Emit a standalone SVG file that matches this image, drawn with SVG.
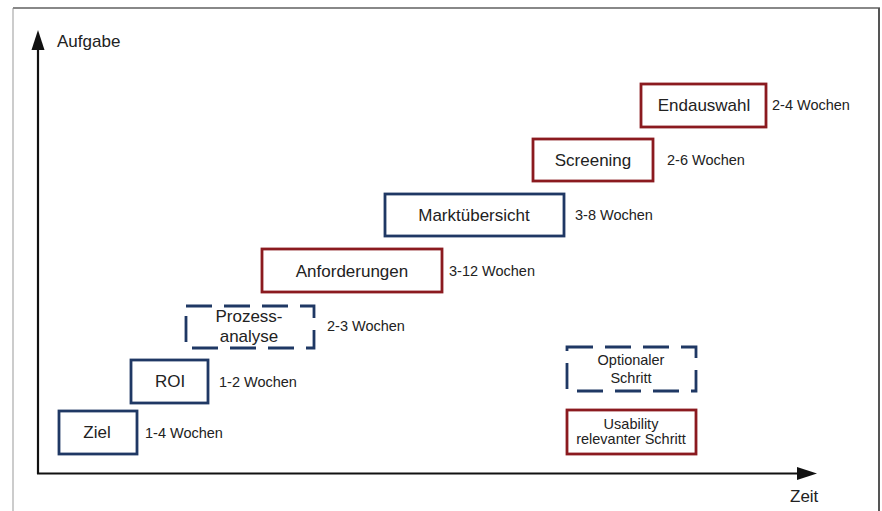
<svg xmlns="http://www.w3.org/2000/svg" width="882" height="511" viewBox="0 0 882 511">
<style>
text{font-family:"Liberation Sans",Arial,sans-serif;fill:#222}
.lbl{font-size:17px;text-anchor:middle}
.dur{font-size:14.5px}
.ax{font-size:17px}
.leg{font-size:14.5px;text-anchor:middle}
.blue{fill:#fff;stroke:#1f3864;stroke-width:2.8}
.red{fill:#fff;stroke:#8b1a1f;stroke-width:2.8}
.dash{fill:none;stroke:#1f3864;stroke-width:2.8;stroke-dasharray:26 12}
.axis{stroke:#111;stroke-width:2.2;fill:none}
</style>
<defs>
<marker id="arr" markerWidth="10" markerHeight="10" refX="9" refY="5" orient="auto" markerUnits="userSpaceOnUse" viewBox="0 0 10 10">
<path d="M0,0 L10,5 L0,10 Z" fill="#111"/>
</marker>
</defs>
<rect width="882" height="511" fill="#fff"/>
<g id="frame">
<line x1="13" y1="8" x2="13" y2="511" stroke="#aaa" stroke-width="1.2"/>
<line x1="13" y1="8" x2="880" y2="8" stroke="#888" stroke-width="2"/>
<line x1="879" y1="8" x2="879" y2="511" stroke="#555" stroke-width="2"/>
</g>
<g id="connectors">
<path class="axis" d="M38,474 L38,50"/>
<polygon points="38,30 31.5,50 44.5,50" fill="#111"/>
<path class="axis" d="M37,473.5 L798,473.5"/>
<polygon points="817,473.5 797,467 797,480" fill="#111"/>
</g>
<g id="axis-labels">
<text class="ax" x="57" y="47">Aufgabe</text>
<text class="ax" x="790" y="502">Zeit</text>
</g>
<g id="ziel">
<rect class="blue" x="59" y="411" width="78" height="43"/>
<text class="lbl" x="97" y="438">Ziel</text>
<text class="dur" x="145" y="438">1-4 Wochen</text>
</g>
<g id="roi">
<rect class="blue" x="131" y="360" width="77" height="43"/>
<text class="lbl" x="170" y="387">ROI</text>
<text class="dur" x="219" y="387">1-2 Wochen</text>
</g>
<g id="prozessanalyse">
<rect class="dash" x="186" y="306" width="128" height="42"/>
<text class="lbl" x="249" y="322">Prozess-</text>
<text class="lbl" x="249" y="342">analyse</text>
<text class="dur" x="327" y="331">2-3 Wochen</text>
</g>
<g id="anforderungen">
<rect class="red" x="262" y="249" width="180" height="43"/>
<text class="lbl" x="352" y="277">Anforderungen</text>
<text class="dur" x="449" y="276">3-12 Wochen</text>
</g>
<g id="marktuebersicht">
<rect class="blue" x="385" y="194" width="179" height="42"/>
<text class="lbl" x="474" y="221">Marktübersicht</text>
<text class="dur" x="575" y="220">3-8 Wochen</text>
</g>
<g id="screening">
<rect class="red" x="533" y="139" width="120" height="42"/>
<text class="lbl" x="593" y="166">Screening</text>
<text class="dur" x="667" y="165">2-6 Wochen</text>
</g>
<g id="endauswahl">
<rect class="red" x="641" y="84" width="125" height="43"/>
<text class="lbl" x="704" y="111">Endauswahl</text>
<text class="dur" x="772" y="110">2-4 Wochen</text>
</g>
<g id="legend-optional">
<rect class="dash" x="567" y="347" width="129" height="44"/>
<text class="leg" x="631" y="365">Optionaler</text>
<text class="leg" x="631" y="383">Schritt</text>
</g>
<g id="legend-usability">
<rect class="red" x="567" y="410" width="129" height="44"/>
<text class="leg" x="631" y="429">Usability</text>
<text class="leg" x="631" y="444">relevanter Schritt</text>
</g>
</svg>
